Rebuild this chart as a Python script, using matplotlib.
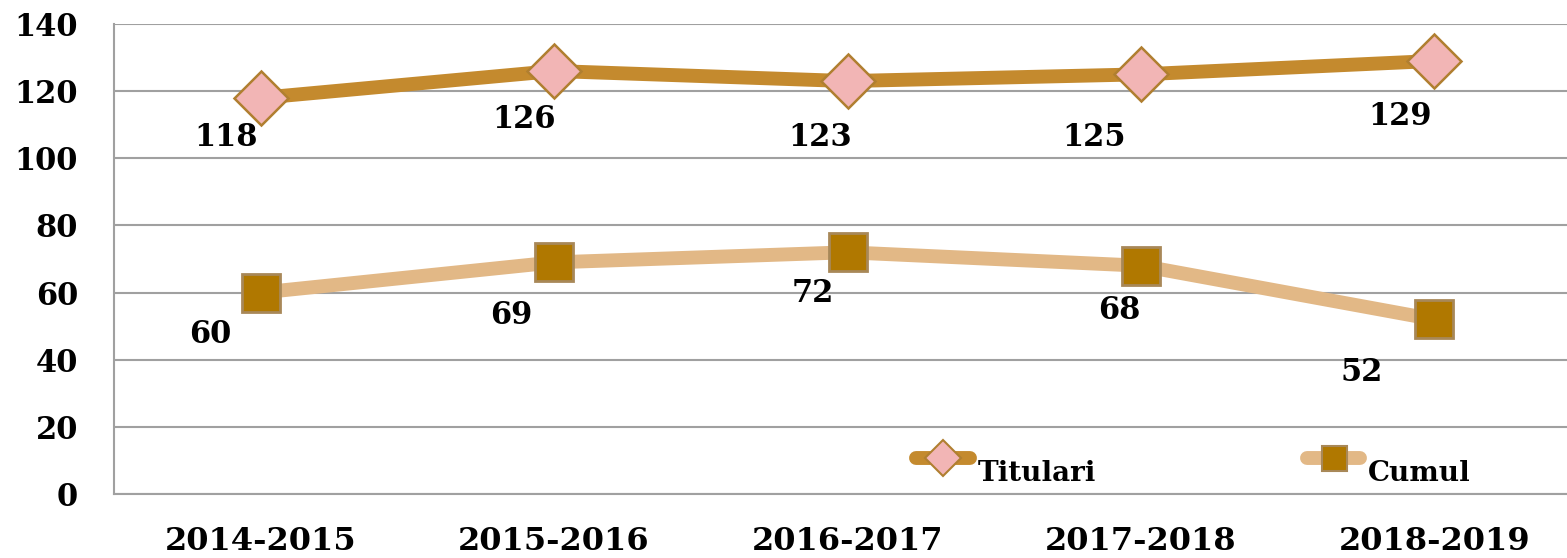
import matplotlib
matplotlib.use("Agg")
import matplotlib.pyplot as plt
from matplotlib.lines import Line2D

categories = ["2014-2015", "2015-2016", "2016-2017", "2017-2018", "2018-2019"]
titulari = [118, 126, 123, 125, 129]
cumul = [60, 69, 72, 68, 52]
yticks = [0, 20, 40, 60, 80, 100, 120, 140]
series_names = ["Titulari", "Cumul"]

# label offsets (pixels) relative to the points
tit_off = [(-35, -40), (-30, -48), (-27, -56), (-47, -63), (-34, -56)]
cum_off = [(-50, -42), (-43, -53), (-35, -41), (-22, -45), (-73, -53)]

plt.rcParams['font.family'] = ['DejaVu Serif']
plt.rcParams['font.weight'] = 'bold'

W, H = 1567, 558
fig = plt.figure(figsize=(W / 100, H / 100), dpi=100)
left, right, top, bottom = 114, 1581, 24, 494
ax = fig.add_axes([left / W, 1 - bottom / H, (right - left) / W, (bottom - top) / H])

x = list(range(len(categories)))
c_tit = "#C48A2E"
c_cum = "#E2B886"
tit_style = dict(marker='D', markerfacecolor="#F2B5B5", markeredgecolor="#B07F30")
cum_style = dict(marker='s', markerfacecolor="#B07800", markeredgecolor="#A88858")

ax.plot(x, titulari, color=c_tit, lw=10, solid_capstyle='round', zorder=3,
        markersize=27, markeredgewidth=1.8, **tit_style)
ax.plot(x, cumul, color=c_cum, lw=10, solid_capstyle='round', zorder=3,
        markersize=28, markeredgewidth=2, **cum_style)

for xi, v, (dx, dy) in zip(x, titulari, tit_off):
    ax.annotate(str(v), (xi, v), xytext=(dx, dy), textcoords='offset pixels',
                ha='center', va='center', fontsize=22, fontweight='bold', zorder=5)
for xi, v, (dx, dy) in zip(x, cumul, cum_off):
    ax.annotate(str(v), (xi, v), xytext=(dx, dy), textcoords='offset pixels',
                ha='center', va='center', fontsize=22, fontweight='bold', zorder=5)

ax.set_xlim(-0.5, 4.5)
ax.set_ylim(0, 140)
ax.set_yticks(yticks)
ax.set_yticklabels([str(t) for t in yticks], fontsize=22, fontweight='bold')
ax.set_xticks(x)
ax.set_xticklabels(categories, fontsize=23, fontweight='bold')
ax.tick_params(axis='both', length=0)
ax.tick_params(axis='y', pad=26)
ax.tick_params(axis='x', pad=23)

ax.grid(axis='y', color="#A0A0A0", lw=1.5, zorder=0)
for s in ['top', 'right']:
    ax.spines[s].set_visible(False)
for s in ['left', 'bottom']:
    ax.spines[s].set_color("#A0A0A0")
    ax.spines[s].set_linewidth(1.5)

# manual legend (figure pixel positions)
def fx(px):
    return px / W

def fy(py):
    return 1 - py / H

legend_items = [
    (series_names[0], c_tit, tit_style, 911, 975, 978),
    (series_names[1], c_cum, cum_style, 1302, 1365, 1368),
]
for name, col, sty, x0, x1, tx in legend_items:
    fig.add_artist(Line2D([fx(x0 + 5), fx(x1 - 5)], [fy(458), fy(458)], color=col, lw=10,
                          solid_capstyle='round', transform=fig.transFigure))
    fig.add_artist(Line2D([fx((x0 + x1) / 2)], [fy(458)], linestyle='none', markersize=18,
                          markeredgewidth=1.5, transform=fig.transFigure, **sty))
    fig.text(fx(tx), fy(481), name, fontsize=20, fontweight='bold', ha='left', va='baseline')

fig.savefig("out.png", dpi=100)
